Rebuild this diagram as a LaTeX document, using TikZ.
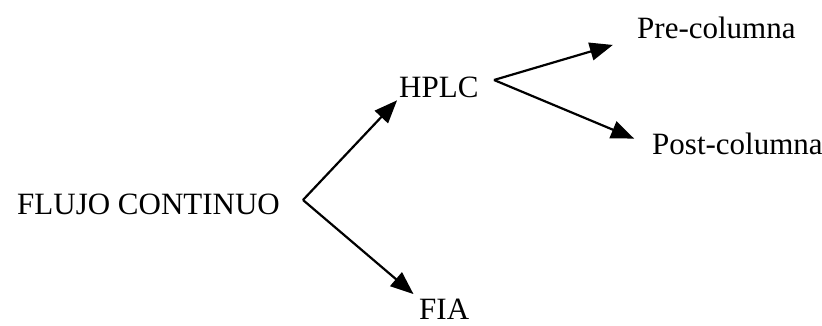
\documentclass[tikz,border=0pt]{standalone}
\usepackage{fontspec}
\setmainfont{Liberation Serif}
\usetikzlibrary{arrows.meta}
\begin{document}
\begin{tikzpicture}[x=1pt,y=1pt,
		etiqueta/.style={anchor=base west, inner sep=4pt, font=\fontsize{31}{37}\selectfont},
		flecha/.style={line width=2.2pt, -{Triangle[length=23pt,width=18pt]}}]
		\useasboundingbox (0,0) rectangle (822,326);
		%Textos
		\node[etiqueta] (flujo) at (13,111) {FLUJO CONTINUO};
		\node[etiqueta] (hplc) at (395,228) {HPLC};
		\node[etiqueta] (fia) at (415,6) {FIA};
		\node[etiqueta] (pre) at (633,287) {Pre-columna};
		\node[etiqueta] (post) at (648,171) {Post-columna};
		%Vertices
		\coordinate (v1) at (303,126);
		\coordinate (v2) at (494,246);
		%Flechas
		\draw[flecha, shorten >=-3pt] (v1) -- (hplc.south west);
		\draw[flecha, shorten >=2pt] (v1) -- (fia.north west);
		\draw[flecha, shorten >=21pt] (v2) -- (pre.base west);
		\draw[flecha, shorten >=15pt] (v2) -- (post.west);
	\end{tikzpicture}
\end{document}
